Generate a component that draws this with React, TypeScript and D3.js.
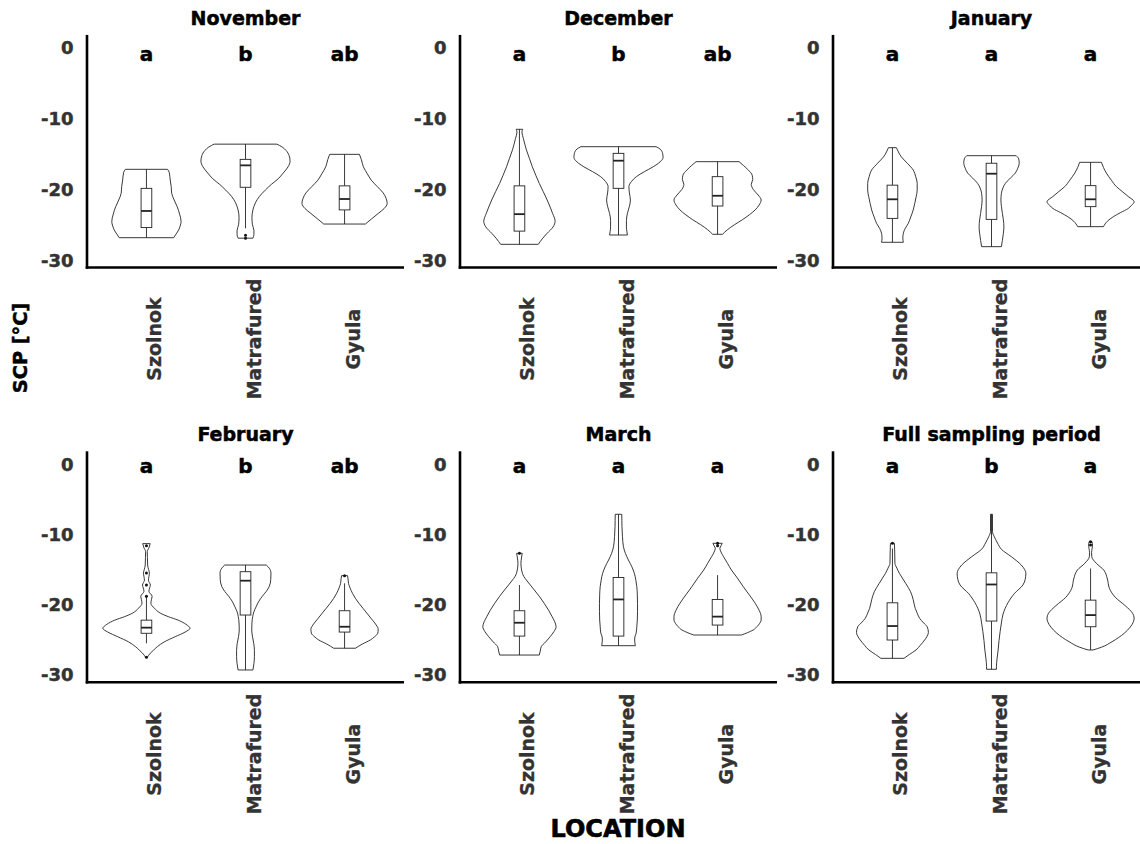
import React from "react";
import * as d3 from "d3";

type Prof = [number, number][];

const locations = ["Szolnok", "Matrafured", "Gyula"];
const panelTitles = ["November", "December", "January", "February", "March", "Full sampling period"];
const groupLetters = [
  ["a", "b", "ab"],
  ["a", "b", "ab"],
  ["a", "a", "a"],
  ["a", "b", "ab"],
  ["a", "a", "a"],
  ["a", "b", "a"],
];
const yTicks = [0, -10, -20, -30];

// violin profiles: [SCP value, relative half-width]
const novSzolnok: Prof = [[-17.16,21.3],[-17.6,23],[-18.67,24],[-19.6,25],[-20.55,25.5],[-21.5,28],[-22.44,31],[-23.5,33.5],[-24.56,35],[-25.2,34],[-25.74,32.5],[-26.3,30],[-26.83,27.5]];
const novMatrafured: Prof = [[-13.6,31.7],[-14.0,37],[-14.5,41],[-15.2,44],[-16.0,45],[-16.8,43],[-17.7,38],[-18.5,33],[-19.3,26],[-20.1,20],[-21.0,14],[-21.9,10],[-22.9,7.5],[-24.0,6.5],[-25.0,7],[-25.8,8.5],[-26.4,8.5],[-26.9,7.5]];
const novGyula: Prof = [[-15.04,15],[-15.8,17],[-16.8,19],[-17.8,23],[-18.7,27],[-19.6,33],[-20.5,39],[-21.3,42],[-22.0,43],[-22.7,40],[-23.4,34],[-24.2,27],[-24.9,21]];

const decSzolnok: Prof = [[-11.5,3.3],[-11.9,2.5],[-12.8,4],[-14.4,7],[-15.6,10],[-16.8,13],[-18.0,16.5],[-19.15,20],[-20.3,24],[-21.5,28],[-22.5,31],[-23.4,33.5],[-24.5,36],[-25.3,34],[-26.2,28],[-27.0,23],[-27.77,19]];
const decMatrafured: Prof = [[-13.96,38],[-14.3,42],[-14.9,44.5],[-15.5,45],[-16.1,42],[-16.8,35],[-17.5,26],[-18.2,18],[-18.9,13],[-19.6,10.5],[-20.5,11],[-21.5,12],[-22.4,11],[-23.4,9],[-24.4,8],[-25.3,8],[-26.0,8.5],[-26.45,9]];
const decGyula: Prof = [[-16.08,21.7],[-16.6,26],[-17.26,31],[-18.0,35],[-18.6,35.5],[-19.3,34],[-20.0,36],[-20.8,41],[-21.5,44],[-22.2,42],[-22.9,38],[-23.6,32],[-24.3,25],[-25.0,17],[-25.7,10],[-26.35,5]];

const janSzolnok: Prof = [[-14.1,4],[-14.7,6],[-15.4,9],[-16.3,15],[-17.26,21],[-18.2,23.5],[-19.15,25],[-20.1,25],[-21.0,24],[-22.0,22.5],[-22.9,21],[-23.9,18.5],[-24.8,16],[-25.5,13],[-26.2,11],[-26.9,10.5],[-27.48,11]];
const janMatrafured: Prof = [[-15.23,25],[-15.7,27.5],[-16.3,28],[-17.0,26.5],[-17.7,24],[-18.4,19],[-19.15,14],[-19.8,11.5],[-20.55,10],[-21.5,9.5],[-22.4,10],[-23.4,11],[-24.3,12],[-25.3,12.5],[-26.2,12],[-27.2,11],[-28.1,10]];
const janGyula: Prof = [[-16.17,11],[-16.9,13],[-17.7,16],[-18.7,21],[-19.6,26],[-20.3,32],[-21.0,38],[-21.75,44],[-22.3,41],[-22.7,38],[-23.3,30],[-23.86,23],[-24.5,17],[-25.27,13]];

const febSzolnok: Prof = [[-11.3,3.8],[-11.9,2.5],[-12.45,0.8],[-13.3,1],[-14.35,1.2],[-15.0,2.2],[-15.5,3],[-16.0,2.5],[-16.5,2],[-17.2,4],[-17.6,3.2],[-18.1,2.5],[-18.8,5.7],[-19.3,5],[-19.8,4.5],[-20.5,8],[-21.2,14],[-21.7,22],[-22.2,32],[-22.8,40],[-23.36,44],[-23.9,39],[-24.56,29],[-25.3,18],[-25.98,11],[-26.5,7],[-26.9,4],[-27.5,0.8]];
const febMatrafured: Prof = [[-14.35,21],[-14.8,24],[-15.5,25.7],[-16.4,25.5],[-17.4,24],[-18.1,21],[-18.8,17],[-19.5,13.5],[-20.3,10.7],[-21.0,8.5],[-21.7,7.3],[-22.6,6.5],[-23.6,6.3],[-24.5,7],[-25.5,8.3],[-26.5,9],[-27.4,9],[-28.4,8.5],[-29.3,7.5]];
const febGyula: Prof = [[-15.86,3],[-16.3,3.5],[-16.95,4],[-17.6,5.5],[-18.38,8],[-19.1,11],[-19.8,14.5],[-20.5,18.5],[-21.2,22.5],[-22.0,27],[-22.9,32],[-23.5,34],[-24.07,33.5],[-24.6,30],[-25.03,26],[-25.6,18],[-26.2,11]];

const marSzolnok: Prof = [[-12.68,2.8],[-13.2,2.2],[-14.1,1.5],[-14.9,2],[-15.53,3],[-16.0,4.5],[-16.48,7],[-17.2,11],[-17.9,15],[-18.8,20],[-19.8,25],[-20.8,29.5],[-21.71,33],[-22.4,35.5],[-23.13,37],[-23.8,35],[-24.56,31],[-25.3,26.5],[-25.98,22],[-26.6,21],[-27.17,20]];
const marMatrafured: Prof = [[-7.12,3.3],[-8.0,3.4],[-8.89,3.5],[-10.3,4],[-11.74,5],[-12.7,7],[-13.63,10],[-14.6,13.5],[-15.53,16],[-16.5,17.5],[-17.44,18.5],[-18.6,19],[-19.8,19.2],[-21.0,19.2],[-22.18,19],[-23.1,18.5],[-24.07,17.8],[-24.6,16.5],[-25.03,16.3],[-25.84,17]];
const marGyula: Prof = [[-11.25,4.7],[-11.6,3.5],[-11.97,2.3],[-12.5,3.5],[-13.16,6],[-14.1,10],[-15.06,14],[-16.2,20],[-17.44,26],[-18.6,32],[-19.8,38],[-20.8,42],[-21.71,44],[-22.2,44],[-22.66,42.5],[-23.1,40],[-23.6,36],[-24.0,30],[-24.32,24]];

const fullSzolnok: Prof = [[-11.25,2],[-12.5,2.3],[-14.1,2.5],[-14.8,4.5],[-15.53,7],[-16.2,10],[-16.95,13.3],[-18.15,18.3],[-19.3,21],[-20.52,23],[-21.2,25],[-21.95,27.5],[-22.6,31.5],[-23.13,35],[-23.94,36.3],[-24.5,35],[-25.03,32.5],[-25.8,28],[-26.45,23.8],[-27.1,17],[-27.64,11.7]];
const fullMatrafured: Prof = [[-7.12,1],[-8.5,1],[-9.6,1],[-10.31,2.8],[-11.2,6],[-12.11,10],[-13.16,20],[-14.34,30],[-15.0,33.5],[-15.53,34.7],[-16.4,34],[-17.2,31.7],[-18.38,23.3],[-19.71,16.7],[-21.33,11.7],[-22.6,10],[-23.84,8.7],[-25.1,7.6],[-26.45,6.7],[-27.7,5.6],[-28.83,5],[-29.2,5]];
const fullGyula: Prof = [[-11.03,1.5],[-11.5,2],[-11.97,1.6],[-12.6,1],[-13.16,1.2],[-14.1,5.8],[-15.06,13.3],[-16.34,17],[-17.67,19],[-18.95,25],[-20.14,35],[-21.24,42.5],[-21.9,44],[-22.42,43.3],[-23.2,40],[-24.07,34],[-25.27,21.7],[-26.07,10.8],[-26.45,2.5]];

// box stats: [lower whisker, Q1, median, Q3, upper whisker]
const novBox = [[-26.83,-25.4,-23.05,-19.85,-17.16],[-25.5,-19.7,-16.6,-15.75,-13.6],[-24.9,-22.9,-21.36,-19.5,-15.04]];
const decBox = [[-27.77,-25.9,-23.5,-19.5,-11.5],[-26.45,-19.85,-15.94,-14.9,-13.96],[-26.35,-22.35,-20.9,-18.2,-16.08]];
const janBox = [[-27.48,-24.1,-21.4,-19.4,-14.1],[-28.1,-24.24,-17.78,-16.3,-15.23],[-25.27,-22.44,-21.4,-19.47,-16.17]];
const febBox = [[-25.5,-24.07,-23.27,-22.2,-18.9],[-29.3,-21.47,-16.58,-15.3,-14.35],[-26.2,-23.9,-23.14,-20.86,-16.95]];
const marBox = [[-27.17,-24.47,-22.57,-20.86,-17.2],[-25.84,-24.47,-19.25,-16.12,-7.12],[-24.32,-22.9,-21.7,-19.25,-15.79]];
const fullBox = [[-27.64,-25.03,-23.04,-19.73,-12.0],[-29.2,-22.33,-17.12,-15.46,-7.12],[-26.45,-23.14,-21.48,-19.35,-14.84]];

// outliers
const novOut = [[], [-26.5, -26.9], []];
const decOut = [[], [], []];
const janOut = [[], [], []];
const febOut = [[-11.6, -15.5, -17.2, -18.8, -27.5], [], [-15.86]];
const marOut = [[-12.68], [], [-11.25, -11.6]];
const fullOut = [[-11.25], [], [-11.03, -11.5]];

const profiles: Prof[][] = [
  [novSzolnok, novMatrafured, novGyula],
  [decSzolnok, decMatrafured, decGyula],
  [janSzolnok, janMatrafured, janGyula],
  [febSzolnok, febMatrafured, febGyula],
  [marSzolnok, marMatrafured, marGyula],
  [fullSzolnok, fullMatrafured, fullGyula],
];
const boxes = [novBox, decBox, janBox, febBox, marBox, fullBox];
const outliers: number[][][] = [novOut, decOut, janOut, febOut, marOut, fullOut];

const FONT = "'DejaVu Sans', sans-serif";

function Panel({ idx }: { idx: number }) {
  const col = idx % 3;
  const row = Math.floor(idx / 3);
  const colX = [87, 460, 833];
  const rowZero = [48, 464.3];
  const rowK = [7.07, 7.02];
  const letterVal = [-1.8, -1.2];
  const panelW = 317;
  const x0 = colX[col];
  const z = rowZero[row];
  const x = d3.scaleLinear().domain([0.4, 3.6]).range([x0, x0 + panelW]);
  const y = d3.scaleLinear().domain([0, -30]).range([z, z + 30 * rowK[row]]);
  const w = d3.scaleLinear().domain([0, 100]).range([0, x(2) - x(1)]);
  const yTop = y(1.85);
  const yBot = y(-31.05);
  const boxHalf = 5.4;

  return (
    <g>
      <text x={x0 + panelW / 2} y={z - 23.3} textAnchor="middle" fontFamily={FONT} fontWeight="bold" fontSize={19} fill="#000" stroke="#000" strokeWidth={0.5}>
        {panelTitles[idx]}
      </text>
      {yTicks.map((t) => (
        <text key={t} x={x0 - 13.5} y={y(t)} dy="0.36em" textAnchor="end" fontFamily={FONT} fontWeight="bold" fontSize={18} fill="#333" stroke="#333" strokeWidth={0.5}>
          {t}
        </text>
      ))}
      {locations.map((loc, i) => {
        const cx = x(i + 1);
        const area = d3
          .area<[number, number]>()
          .curve(d3.curveMonotoneY)
          .y((d) => y(d[0]))
          .x0((d) => cx - w(d[1]))
          .x1((d) => cx + w(d[1]));
        const [lo, q1, med, q3, hi] = boxes[idx][i];
        const bw = w(boxHalf);
        return (
          <g key={loc}>
            <path d={area(profiles[idx][i]) || ""} fill="#fff" stroke="#222" strokeWidth={0.9} />
            <line x1={cx} x2={cx} y1={y(hi)} y2={y(q3)} stroke="#222" strokeWidth={0.9} />
            <line x1={cx} x2={cx} y1={y(q1)} y2={y(lo)} stroke="#222" strokeWidth={0.9} />
            <rect x={cx - bw} width={2 * bw} y={y(q3)} height={y(q1) - y(q3)} fill="#fff" stroke="#222" strokeWidth={0.9} />
            <line x1={cx - bw} x2={cx + bw} y1={y(med)} y2={y(med)} stroke="#222" strokeWidth={1.8} />
            {outliers[idx][i].map((o, k) => (
              <circle key={k} cx={cx} cy={y(o)} r={1.5} fill="#111" />
            ))}
            <text x={cx} y={y(letterVal[row])} textAnchor="middle" fontFamily={FONT} fontWeight="bold" fontSize={20} fill="#000" stroke="#000" strokeWidth={0.5}>
              {groupLetters[idx][i]}
            </text>
            <text
              transform={`translate(${cx + 15},${row === 0 ? 339 : 754}) rotate(-90)`}
              textAnchor="middle"
              fontFamily={FONT}
              fontWeight="bold"
              fontSize={19}
              fill="#333"
              stroke="#333"
              strokeWidth={0.3}
            >
              {loc}
            </text>
          </g>
        );
      })}
      <line x1={x0} x2={x0} y1={yTop} y2={yBot + 1.3} stroke="#000" strokeWidth={2.6} />
      <line x1={x0 - 1.3} x2={x0 + panelW} y1={yBot} y2={yBot} stroke="#000" strokeWidth={2.6} />
    </g>
  );
}

export default function App() {
  return (
    <svg width={1140} height={844} style={{ position: "absolute", left: 0, top: 0, background: "#fff" }}>
      <rect width={1140} height={844} fill="#fff" />
      {panelTitles.map((_, i) => (
        <Panel key={i} idx={i} />
      ))}
      <text transform="translate(27,348) rotate(-90)" textAnchor="middle" fontFamily={FONT} fontWeight="bold" fontSize={19.3} fill="#000" stroke="#000" strokeWidth={0.5}>
        SCP [°C]
      </text>
      <text x={618} y={837} textAnchor="middle" fontFamily={FONT} fontWeight="bold" fontSize={24} fill="#000" stroke="#000" strokeWidth={0.6}>
        LOCATION
      </text>
    </svg>
  );
}
